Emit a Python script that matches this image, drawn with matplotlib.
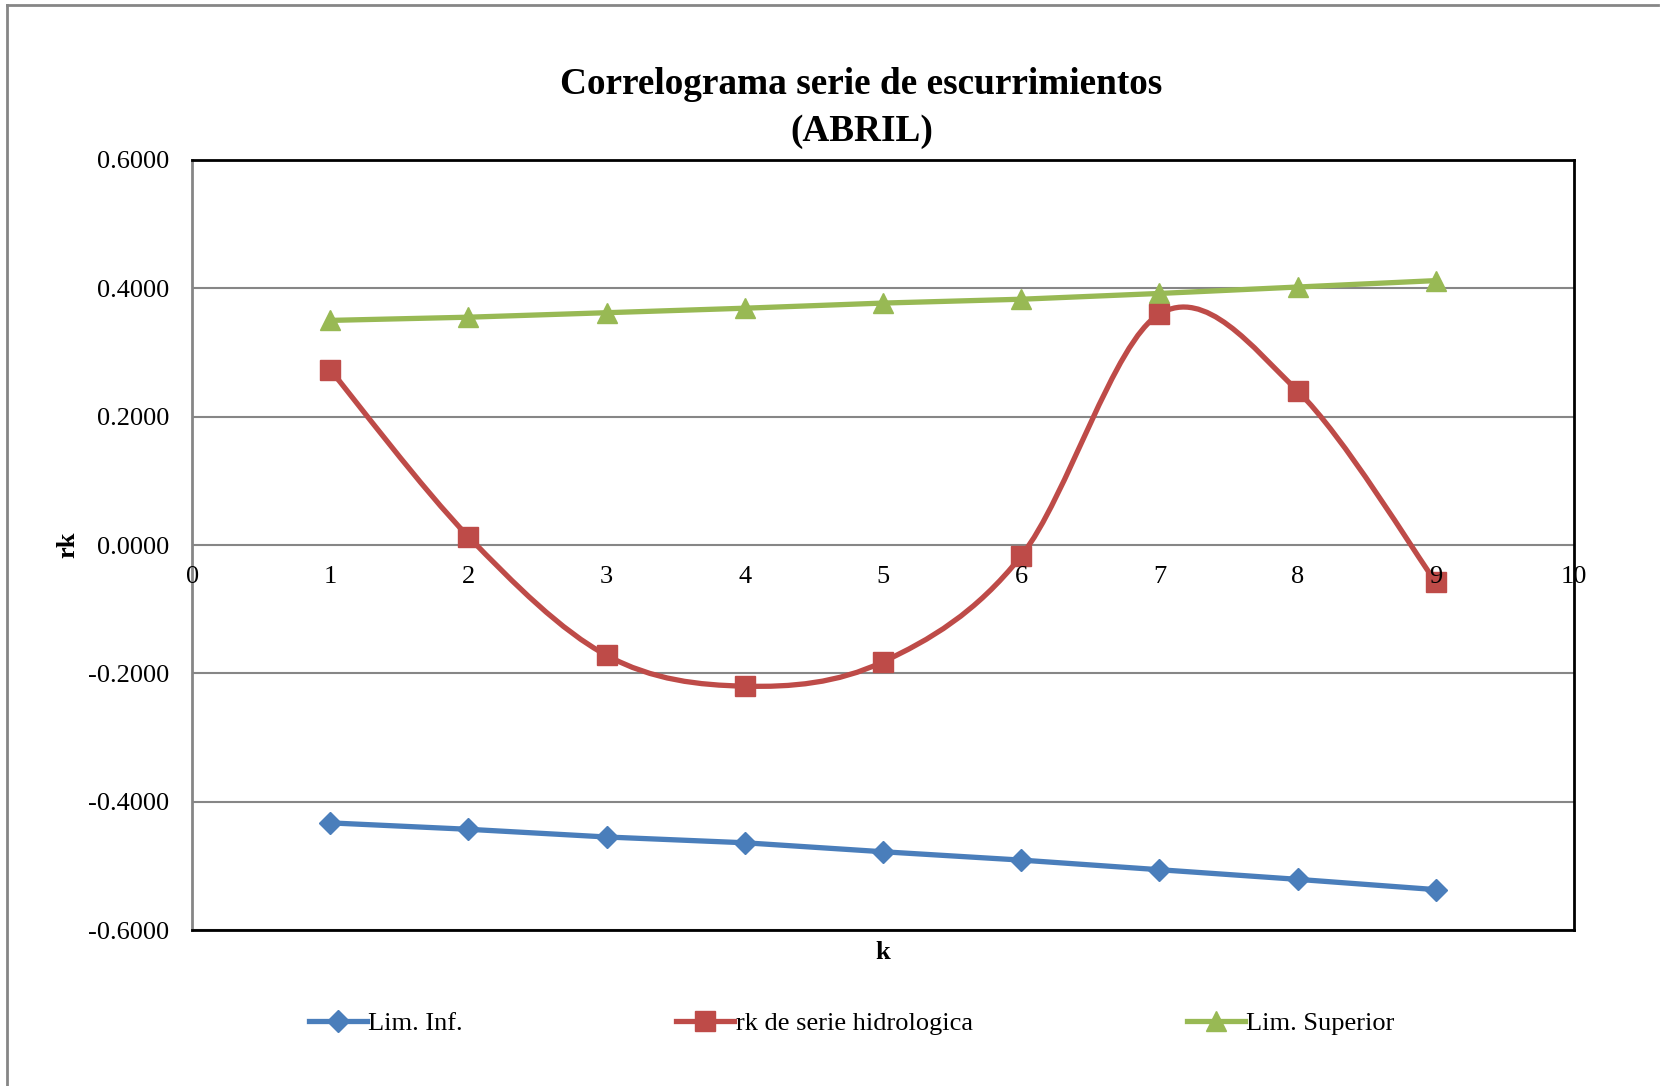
import numpy as np
import matplotlib
matplotlib.use('Agg')
from matplotlib import pyplot as plt
from matplotlib.path import Path
from matplotlib.patches import PathPatch
from matplotlib.lines import Line2D

plt.rcParams['font.family'] = ['Liberation Serif', 'DejaVu Serif']

# datos del correlograma
k = [1, 2, 3, 4, 5, 6, 7, 8, 9]
lim_inf = [-0.433, -0.443, -0.455, -0.464, -0.478, -0.491, -0.506, -0.521, -0.537]
rk = [0.273, 0.013, -0.172, -0.220, -0.182, -0.017, 0.360, 0.240, -0.058]
lim_sup = [0.350, 0.355, 0.362, 0.369, 0.377, 0.383, 0.392, 0.402, 0.412]

titulo = 'Correlograma serie de escurrimientos\n(ABRIL)'
etiquetas = ['Lim. Inf.', 'rk de serie hidrologica', 'Lim. Superior']
yticks = [-0.6, -0.4, -0.2, 0.0, 0.2, 0.4, 0.6]
xticks = [0, 1, 2, 3, 4, 5, 6, 7, 8, 9, 10]

azul = '#4A7EBB'
rojo = '#BE4B48'
verde = '#98B954'


def curva_suave(x, y):
    # curva tipo Excel (Catmull-Rom convertida a Bezier)
    pts = np.column_stack([x, y]).astype(float)
    n = len(pts)
    verts = [pts[0]]
    codes = [Path.MOVETO]
    for i in range(n - 1):
        p0 = pts[i - 1] if i > 0 else pts[i]
        p1 = pts[i]
        p2 = pts[i + 1]
        p3 = pts[i + 2] if i + 2 < n else pts[i + 1]
        c1 = p1 + (p2 - p0) / 6
        c2 = p2 - (p3 - p1) / 6
        verts += [c1, c2, p2]
        codes += [Path.CURVE4] * 3
    return Path(verts, codes)


fig = plt.figure(figsize=(16.63, 10.86), dpi=100)
ax = fig.add_axes([0.1155, 0.1436, 0.831, 0.7091])

for y in yticks:
    ax.axhline(y, color='#868686', lw=1.5, zorder=1)

ax.plot(k, lim_inf, color=azul, lw=3.8, marker='D', ms=11, zorder=3)
ax.add_patch(PathPatch(curva_suave(k, rk), facecolor='none', edgecolor=rojo, lw=3.8, zorder=3))
ax.plot(k, rk, ls='none', color=rojo, marker='s', ms=14, zorder=4)
ax.plot(k, lim_sup, color=verde, lw=3.8, marker='^', ms=15, zorder=3)

ax.set_xlim(0, 10)
ax.set_ylim(-0.6, 0.6)
ax.set_yticks(yticks)
ax.set_yticklabels(['%.4f' % v for v in yticks], fontsize=19)
ax.tick_params(axis='y', length=0, pad=16.5)
ax.set_xticks([])

for s in ['top', 'right', 'bottom']:
    ax.spines[s].set_color('black')
    ax.spines[s].set_linewidth(2)
ax.spines['left'].set_color('#868686')
ax.spines['left'].set_linewidth(2)

# etiquetas del eje x, que cruza en 0
for v in xticks:
    ax.annotate(str(v), (v, 0), xytext=(0, -23), textcoords='offset points',
                ha='center', va='center', fontsize=19, zorder=6)

ax.set_xlabel('k', fontsize=19, fontweight='bold', labelpad=8)
ax.set_ylabel('rk', fontsize=19, fontweight='bold', labelpad=6)

fig.text(0.518, 0.9005, titulo, ha='center', va='center', fontsize=26.8,
         fontweight='bold', linespacing=1.42)

handles = [
    Line2D([], [], color=azul, lw=3.8, marker='D', ms=11),
    Line2D([], [], color=rojo, lw=3.8, marker='s', ms=14),
    Line2D([], [], color=verde, lw=3.8, marker='^', ms=15),
]
fig.legend(handles, etiquetas, loc='center', bbox_to_anchor=(0.512, 0.058), ncol=3,
           frameon=False, fontsize=19, handlelength=2.2, handletextpad=0.05,
           columnspacing=8.1)

# marco del grafico
fig.add_artist(Line2D([0.0042, 0.0042], [0.0, 0.9954], color='#868686', lw=2,
                      transform=fig.transFigure))
fig.add_artist(Line2D([0.0042, 0.997], [0.9954, 0.9954], color='#868686', lw=2,
                      transform=fig.transFigure))

fig.savefig('out.png', dpi=100)
